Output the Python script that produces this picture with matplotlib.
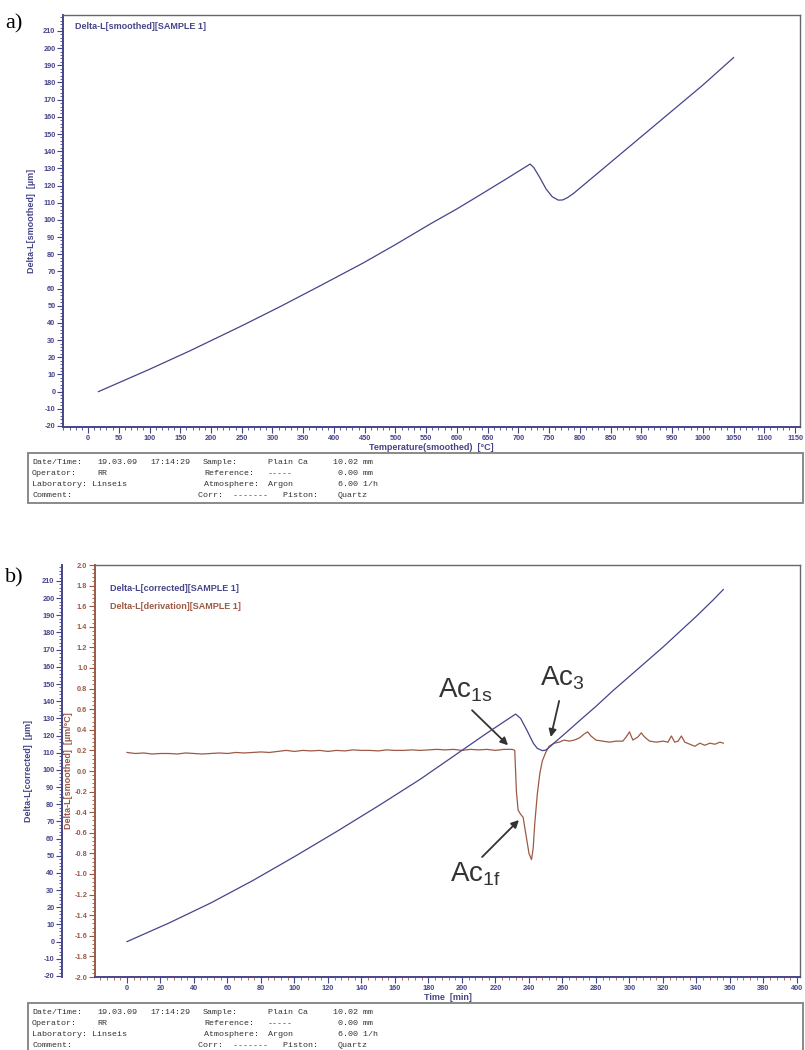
import matplotlib
matplotlib.use("Agg")
import matplotlib.pyplot as plt
from matplotlib.ticker import MultipleLocator, FormatStrFormatter
from matplotlib.patches import Rectangle

# a) Delta-L vs temperature
temp_a = [17, 100, 166, 250, 312, 380, 448, 500, 556, 600, 637, 680, 719,
          725, 735, 745, 755, 765, 772, 780, 790, 800, 825, 850, 875, 900,
          925, 950, 975, 1000, 1025, 1050]
dl_a = [0, 13.0, 23.8, 38.3, 49.4, 62.1, 75.0, 85.6, 97.5, 106.4, 114.4, 123.8, 132.5,
        130.5, 124.5, 118, 113.5, 111.5, 111.6, 113, 115.5, 118.5, 126, 133.5, 141, 148.5,
        156, 163.5, 171, 178.5, 186.5, 194.5]

# b) Delta-L (corrected) vs time
time_b = [0, 25, 50, 75, 100, 125, 150, 175, 195, 215, 232, 235, 238.7, 242.6, 245,
          248, 250, 252.5, 256, 262.5, 270, 280, 290, 300, 310, 320, 330, 340, 350, 356]
dl_b = [0, 10.8, 22.5, 35.5, 49.5, 64, 79, 94.5, 108, 121.5, 132.5, 130, 123.2, 115.5, 112.5,
        111.2, 111.5, 113.5, 116.5, 122, 128.5, 137, 146, 154.5, 163, 171.5, 180.5, 189.5, 199, 205]

# b) derivation vs time
time_d = [0, 5, 10, 15, 20, 25, 30, 35, 40, 45, 50, 55, 60, 65, 70, 75, 80, 85, 90, 95,
          100, 105, 110, 115, 120, 125, 130, 135, 140, 145, 150, 155, 160, 165, 170, 175,
          180, 185, 190, 195, 200, 205, 210, 215, 220, 225, 230, 231.5, 232.5, 233.5, 235,
          236.5, 238, 240, 241.5, 242.5, 243.5, 245, 246.5, 248, 250, 252, 255, 258, 261,
          264, 267, 270, 273, 275, 277, 280, 284, 288, 292, 296, 298, 300, 302, 305, 307,
          309, 312, 316, 320, 323, 325, 327, 329, 331, 333, 336, 339, 342, 345, 348, 351,
          354, 356]
deriv_b = [0.18, 0.17, 0.175, 0.165, 0.17, 0.17, 0.165, 0.175, 0.17, 0.165, 0.17, 0.175,
           0.17, 0.18, 0.175, 0.18, 0.185, 0.18, 0.19, 0.2, 0.19, 0.2, 0.195, 0.2, 0.19, 0.2,
           0.195, 0.205, 0.2, 0.2, 0.195, 0.205, 0.2, 0.2, 0.205, 0.2, 0.205, 0.21, 0.205,
           0.21, 0.2, 0.21, 0.205, 0.21, 0.2, 0.21, 0.21, 0.2, -0.2, -0.38, -0.42, -0.45,
           -0.6, -0.8, -0.86, -0.75, -0.5, -0.22, -0.02, 0.1, 0.18, 0.24, 0.27, 0.28, 0.3,
           0.29, 0.3, 0.32, 0.36, 0.38, 0.34, 0.3, 0.29, 0.28, 0.29, 0.29, 0.33, 0.38, 0.3,
           0.33, 0.37, 0.33, 0.29, 0.28, 0.29, 0.28, 0.34, 0.28, 0.29, 0.34, 0.28, 0.26, 0.24,
           0.27, 0.25, 0.27, 0.26, 0.28, 0.27]

info_rows = [
    [(32, "Date/Time:"), (97, "19.03.09"), (150, "17:14:29"), (203, "Sample:"),
     (268, "Plain Ca"), (333, "10.02 mm")],
    [(32, "Operator:"), (97, "RR"), (204, "Reference:"), (268, "-----"), (338, "0.00 mm")],
    [(32, "Laboratory: Linseis"), (204, "Atmosphere:"), (268, "Argon"), (338, "6.00 1/h")],
    [(32, "Comment:"), (198, "Corr:  -------   Piston:"), (338, "Quartz")],
]

navy = "#45458a"
brown = "#9c5a45"
W, H = 805, 1050

plt.rcParams["font.family"] = "Liberation Sans"
plt.rcParams["font.weight"] = "bold"
plt.rcParams["axes.labelweight"] = "bold"
plt.rcParams["axes.unicode_minus"] = False
plt.rcParams["mathtext.fontset"] = "custom"
plt.rcParams["mathtext.rm"] = "Liberation Sans:weight=normal"


def fig_box(l, t, r, b):
    return [l / W, 1 - b / H, (r - l) / W, (b - t) / H]


def style_axis(ax, color):
    ax.tick_params(which="both", direction="out", color=color, labelcolor=color,
                   labelsize=5.3, pad=1.5)
    ax.tick_params(which="major", length=4, width=0.8)
    ax.tick_params(which="minor", length=2, width=0.6)


def info_box(top):
    fig.add_artist(Rectangle((28 / W, 1 - (top + 50) / H), 775 / W, 50 / H,
                             transform=fig.transFigure, fill=False, ec="#808080", lw=1.3))
    for i, row in enumerate(info_rows):
        for x, s in row:
            fig.text(x / W, 1 - (top + 10 + i * 10.7) / H, s, family="Liberation Mono",
                     weight="normal", size=6, color="#333333", va="center")


fig = plt.figure(figsize=(8.05, 10.5), dpi=100)

# ---------- a) ----------
axA = fig.add_axes(fig_box(63, 15, 800, 427))
axA.plot(temp_a, dl_a, color=navy, lw=0.9)
axA.set_xlim(-40.7, 1158)
axA.set_ylim(-20.6, 219.3)
axA.xaxis.set_major_locator(MultipleLocator(50))
axA.xaxis.set_minor_locator(MultipleLocator(10))
axA.yaxis.set_major_locator(MultipleLocator(10))
axA.yaxis.set_minor_locator(MultipleLocator(2))
style_axis(axA, navy)
for s in ["left", "bottom"]:
    axA.spines[s].set_color(navy)
    axA.spines[s].set_linewidth(1.4)
for s in ["top", "right"]:
    axA.spines[s].set_color("#666666")
    axA.spines[s].set_linewidth(1.0)
axA.set_xlabel("Temperature(smoothed)  [°C]", color=navy, size=6.5)
axA.xaxis.set_label_coords(0.5, -0.038)
axA.set_ylabel("Delta-L[smoothed]  [µm]", color=navy, size=6.5)
axA.yaxis.set_label_coords(-0.0366, 0.5)
axA.text(0.016, 0.973, "Delta-L[smoothed][SAMPLE 1]", transform=axA.transAxes,
         color=navy, size=6.5, va="center")
info_box(453)
fig.text(5 / W, 1 - 24 / H, "a)", family="Liberation Serif", weight="normal",
         size=16, va="center")

# ---------- b) ----------
axB = fig.add_axes(fig_box(95, 565, 800, 977))
axB.plot(time_d, deriv_b, color=brown, lw=0.9)
axB.set_xlim(-19.1, 401.8)
axB.set_ylim(-2.0, 2.0)
axB.xaxis.set_major_locator(MultipleLocator(20))
axB.xaxis.set_minor_locator(MultipleLocator(4))
axB.yaxis.set_major_locator(MultipleLocator(0.2))
axB.yaxis.set_minor_locator(MultipleLocator(0.04))
axB.yaxis.set_major_formatter(FormatStrFormatter("%.1f"))
style_axis(axB, brown)
axB.tick_params(axis="x", color=navy, labelcolor=navy)
axB.spines["left"].set_color(brown)
axB.spines["left"].set_linewidth(1.4)
axB.spines["bottom"].set_color(navy)
axB.spines["bottom"].set_linewidth(1.4)
for s in ["top", "right"]:
    axB.spines[s].set_color("#666666")
    axB.spines[s].set_linewidth(1.0)
axB.set_xlabel("Time  [min]", color=navy, size=6.5)
axB.xaxis.set_label_coords(0.5, -0.038)
axB.set_ylabel("Delta-L[smoothed]  [µm/°C]", color=brown, size=6.5)
axB.yaxis.set_label_coords(-0.031, 0.5)

axL = axB.twinx()
axL.plot(time_b, dl_b, color=navy, lw=0.9)
axL.set_ylim(-20.6, 219.3)
axL.yaxis.set_ticks_position("left")
axL.yaxis.set_label_position("left")
axL.spines["left"].set_position(("axes", -0.0468))
axL.spines["left"].set_color(navy)
axL.spines["left"].set_linewidth(1.4)
for s in ["top", "right", "bottom"]:
    axL.spines[s].set_visible(False)
axL.yaxis.set_major_locator(MultipleLocator(10))
axL.yaxis.set_minor_locator(MultipleLocator(2))
style_axis(axL, navy)
axL.set_ylabel("Delta-L[corrected]  [µm]", color=navy, size=6.5)
axL.yaxis.set_label_coords(-0.088, 0.5)

axB.text(0.021, 0.944, "Delta-L[corrected][SAMPLE 1]", transform=axB.transAxes,
         color=navy, size=6.5, va="center")
axB.text(0.021, 0.900, "Delta-L[derivation][SAMPLE 1]", transform=axB.transAxes,
         color=brown, size=6.5, va="center")

arrow = dict(arrowstyle="-|>", color="#333333", lw=1.3, mutation_scale=11,
             shrinkA=0, shrinkB=0)
axB.annotate("", xy=(227.5, 0.25), xytext=(206, 0.59), arrowprops=arrow)
axB.annotate("", xy=(253, 0.33), xytext=(258, 0.68), arrowprops=arrow)
axB.annotate("", xy=(234, -0.476), xytext=(212, -0.835), arrowprops=arrow)
for x, y, s in [(202, 0.79, r"Ac$_\mathrm{1s}$"), (259.7, 0.9, r"Ac$_\mathrm{3}$"),
                (207.8, -1.0, r"Ac$_\mathrm{1f}$")]:
    axB.text(x, y, s, size=20, weight="normal", color="#333333", ha="center", va="center")

info_box(1003)
fig.text(5 / W, 1 - 578 / H, "b)", family="Liberation Serif", weight="normal",
         size=16, va="center")

fig.savefig("out.png", dpi=100)
